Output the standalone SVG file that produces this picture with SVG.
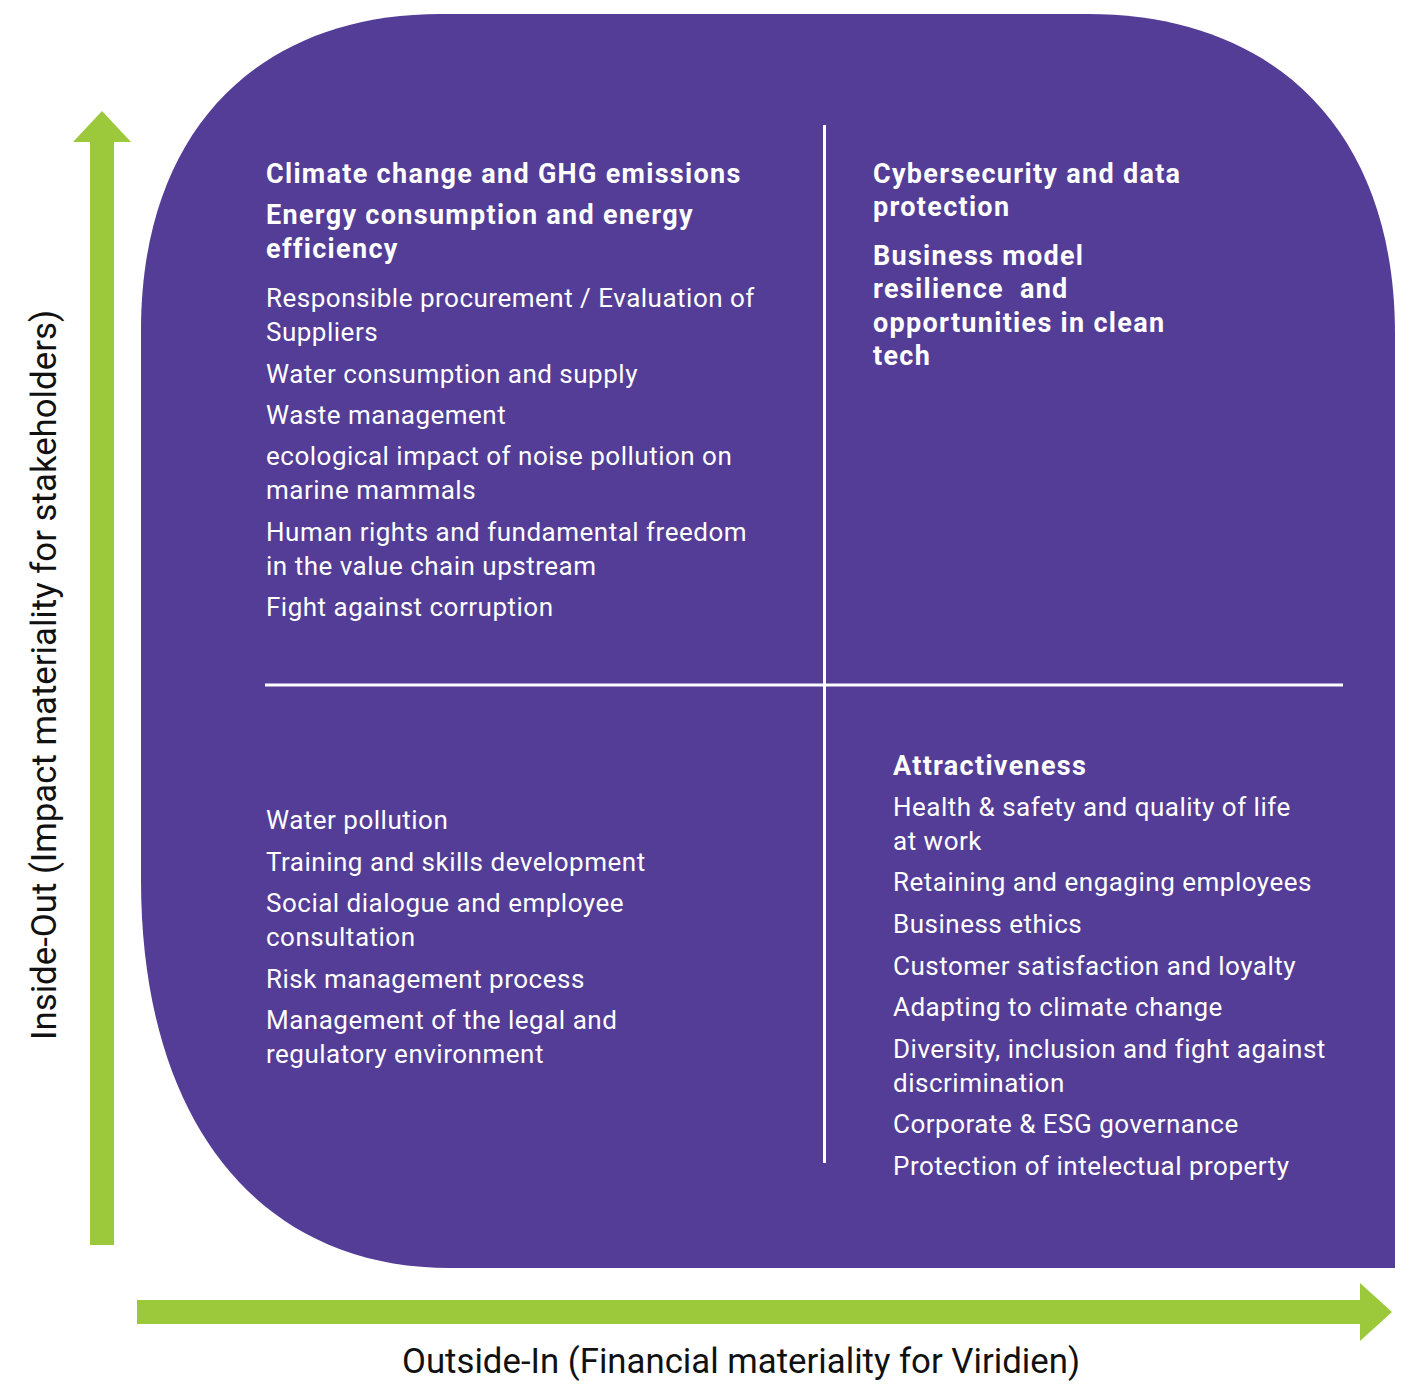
<svg xmlns="http://www.w3.org/2000/svg" width="1418" height="1391" viewBox="0 0 1418 1391">
<style>
.t{font-family:Roboto,"Liberation Sans",sans-serif;fill:#ffffff;font-size:26px;letter-spacing:0.5px;}
.b{font-family:Roboto,"Liberation Sans",sans-serif;fill:#ffffff;font-size:27px;font-weight:bold;letter-spacing:1.3px;}
.ax{font-family:Roboto,"Liberation Sans",sans-serif;fill:#111111;font-size:35px;}
.div{stroke:#ffffff;stroke-width:3;fill:none;}
.arrow{fill:#9BC93B;}
</style>
<rect x="0" y="0" width="1418" height="1391" fill="#ffffff"/>
<g id="panel">
<path fill="#533D96" d="M441,14 L1087,14 C1278,14 1395,134 1395,334 L1395,1268 L450,1268 C258,1268 141,1120 141,880 L141,330 C141,134 255,14 441,14 Z"/>
</g>
<g id="connectors">
<line class="div" x1="824.5" y1="125" x2="824.5" y2="1163"/>
<line class="div" x1="265" y1="685" x2="1343" y2="685"/>
<path class="arrow" d="M90,1245 L90,142 L73,142 L102,111 L131,142 L114,142 L114,1245 Z"/>
<path class="arrow" d="M137,1300 L1360,1300 L1360,1283 L1392,1312 L1360,1341 L1360,1324 L137,1324 Z"/>
</g>
<g id="q-top-left">
<text class="b" x="266" y="183">Climate change and GHG emissions</text>
<text class="b" x="266" y="224">Energy consumption and energy</text>
<text class="b" x="266" y="258">efficiency</text>
<text class="t" x="266" y="307">Responsible procurement / Evaluation of</text>
<text class="t" x="266" y="341">Suppliers</text>
<text class="t" x="266" y="383">Water consumption and supply</text>
<text class="t" x="266" y="424">Waste management</text>
<text class="t" x="266" y="465">ecological impact of noise pollution on</text>
<text class="t" x="266" y="499">marine mammals</text>
<text class="t" x="266" y="541">Human rights and fundamental freedom</text>
<text class="t" x="266" y="575">in the value chain upstream</text>
<text class="t" x="266" y="616">Fight against corruption</text>
</g>
<g id="q-top-right">
<text class="b" x="873" y="183">Cybersecurity and data</text>
<text class="b" x="873" y="216">protection</text>
<text class="b" x="873" y="265">Business model</text>
<text class="b" x="873" y="298" xml:space="preserve">resilience  and</text>
<text class="b" x="873" y="332">opportunities in clean</text>
<text class="b" x="873" y="365">tech</text>
</g>
<g id="q-bottom-left">
<text class="t" x="266" y="829">Water pollution</text>
<text class="t" x="266" y="871">Training and skills development</text>
<text class="t" x="266" y="912">Social dialogue and employee</text>
<text class="t" x="266" y="946">consultation</text>
<text class="t" x="266" y="988">Risk management process</text>
<text class="t" x="266" y="1029">Management of the legal and</text>
<text class="t" x="266" y="1063">regulatory environment</text>
</g>
<g id="q-bottom-right">
<text class="b" x="893" y="775">Attractiveness</text>
<text class="t" x="893" y="816">Health &amp; safety and quality of life</text>
<text class="t" x="893" y="850">at work</text>
<text class="t" x="893" y="891">Retaining and engaging employees</text>
<text class="t" x="893" y="933">Business ethics</text>
<text class="t" x="893" y="975">Customer satisfaction and loyalty</text>
<text class="t" x="893" y="1016">Adapting to climate change</text>
<text class="t" x="893" y="1058">Diversity, inclusion and fight against</text>
<text class="t" x="893" y="1092">discrimination</text>
<text class="t" x="893" y="1133">Corporate &amp; ESG governance</text>
<text class="t" x="893" y="1175">Protection of intelectual property</text>
</g>
<g id="axis-y">
<text class="ax" transform="translate(56,675) rotate(-90)" text-anchor="middle" textLength="730" lengthAdjust="spacingAndGlyphs">Inside-Out (Impact materiality for stakeholders)</text>
</g>
<g id="axis-x">
<text class="ax" x="741" y="1373" text-anchor="middle" textLength="678" lengthAdjust="spacingAndGlyphs">Outside-In (Financial materiality for Viridien)</text>
</g>
</svg>
